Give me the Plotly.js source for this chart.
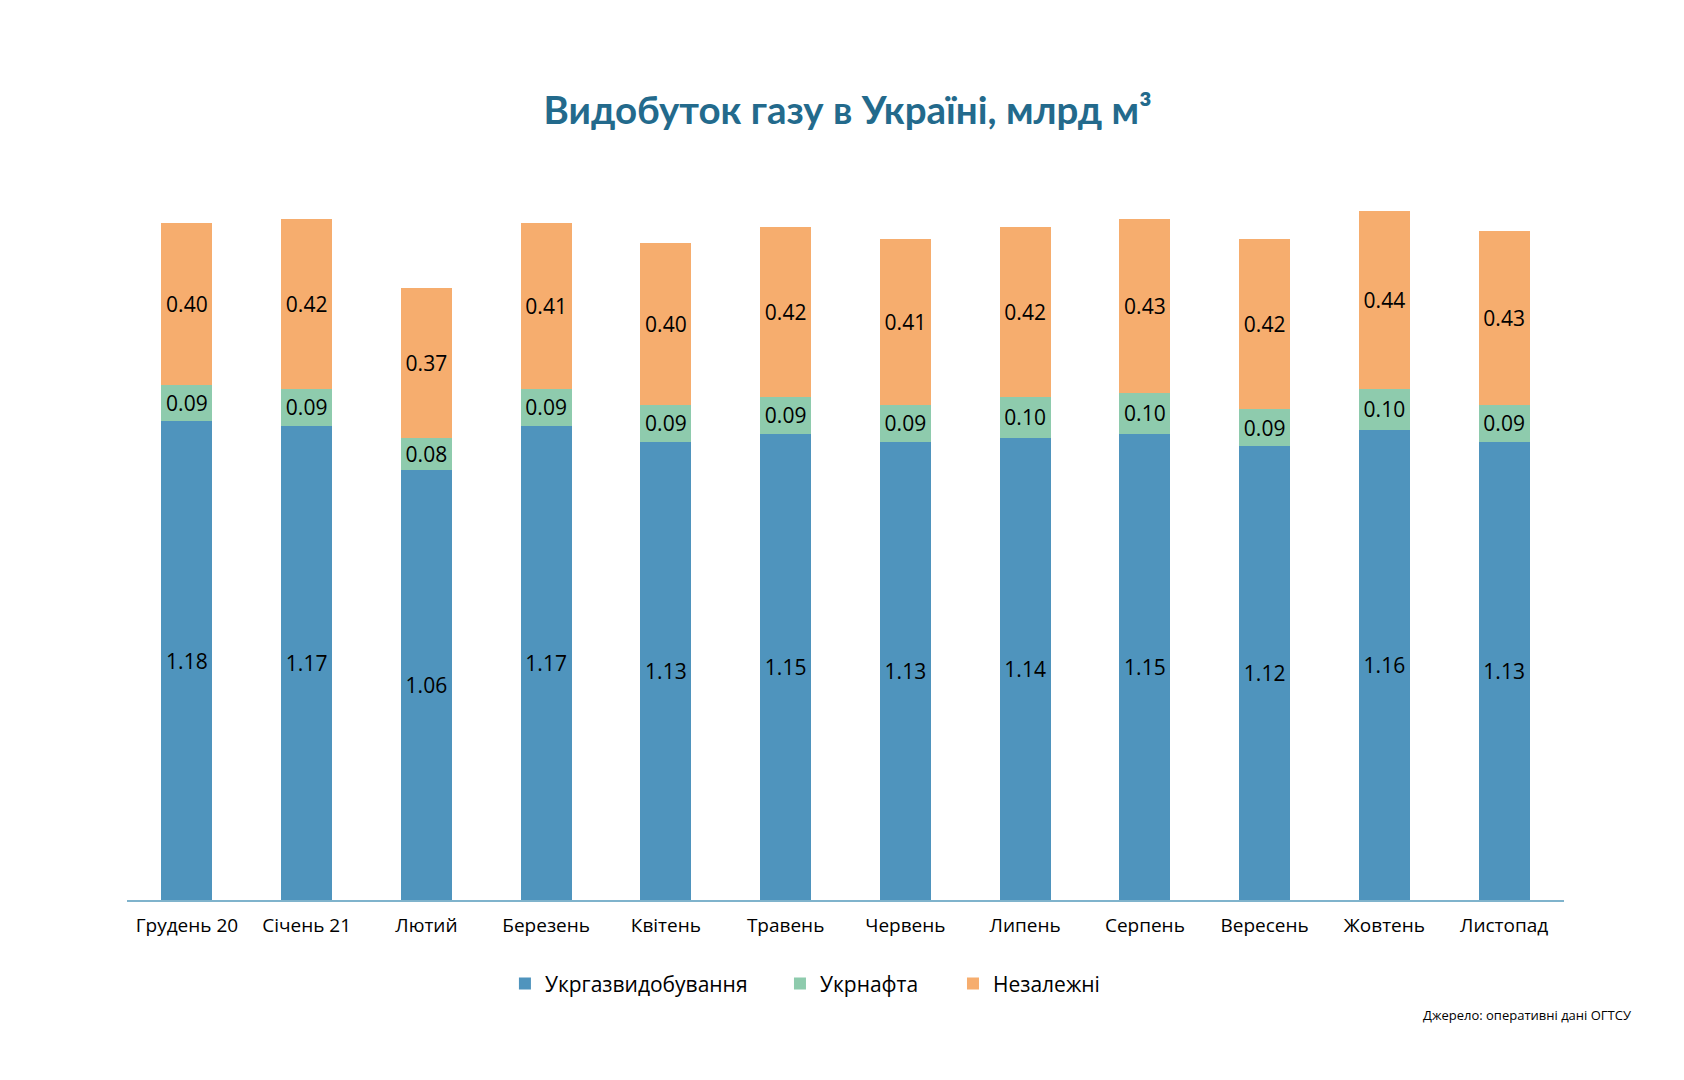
<!DOCTYPE html>
<html>
<head>
<meta charset="utf-8">
<script src="https://cdn.plot.ly/plotly-3.0.1.min.js"></script>
<style>
html,body{margin:0;padding:0;background:#fff;}
#chart{width:1684px;height:1080px;}
</style>
</head>
<body>
<div id="chart"></div>
<script>
const months = ["Грудень 20","Січень 21","Лютий","Березень","Квітень","Травень","Червень","Липень","Серпень","Вересень","Жовтень","Листопад"];
const ukrgaz = [1.18,1.17,1.06,1.17,1.13,1.15,1.13,1.14,1.15,1.12,1.16,1.13];
const ukrnafta = [0.09,0.09,0.08,0.09,0.09,0.09,0.09,0.10,0.10,0.09,0.10,0.09];
const independent = [0.40,0.42,0.37,0.41,0.40,0.42,0.41,0.42,0.43,0.42,0.44,0.43];
const seriesNames = ["Укргазвидобування","Укрнафта","Незалежні"];
const colors = ["#4f94bd","#8ecbad","#f6ad6e"];
const legendIds = ["legend","legend2","legend3"];

const labelFont = {family:"Open Sans, sans-serif", size:21, color:"#000"};
function mk(vals, i){
  return {
    type:"bar", x:months, y:vals, name:seriesNames[i], legend:legendIds[i],
    marker:{color:colors[i]},
    texttemplate:"%{y:.2f}", textposition:"inside", insidetextanchor:"middle",
    textangle:0, constraintext:"none",
    insidetextfont:labelFont, textfont:labelFont,
    hoverinfo:"skip"
  };
}
const data = [mk(ukrgaz,0), mk(ukrnafta,1), mk(independent,2)];

const legFont = {family:"Open Sans, sans-serif", size:21, color:"#000"};
function leg(x){
  return {orientation:"h", x:x, xanchor:"left", y:-0.115, yanchor:"middle", font:legFont, itemwidth:30, bgcolor:"rgba(0,0,0,0)"};
}

const layout = {
  width:1684, height:1080,
  paper_bgcolor:"#fff", plot_bgcolor:"#fff",
  margin:{l:127, r:120, t:170, b:180},
  barmode:"stack", bargap:0.576,
  title:{text:"<b>Видобуток газу в Україні, млрд м³</b>", x:0.5034, xanchor:"center", y:0.898, yanchor:"middle",
         font:{family:"Lato, sans-serif", size:38.5, color:"#236a8c"}},
  xaxis:{showline:true, linecolor:"#7fb3cc", linewidth:1.5, ticks:"", showgrid:false,
         tickfont:{family:"Open Sans, sans-serif", size:19, color:"#000"}, ticklabelstandoff:8},
  yaxis:{range:[0,1.8], visible:false, showgrid:false, zeroline:false},
  showlegend:true,
  legend:leg(0.263), legend2:leg(0.4544), legend3:leg(0.5748),
  annotations:[{text:"Джерело: оперативні дані ОГТСУ", xref:"paper", yref:"paper", x:1.0485, y:-0.1575,
                xanchor:"right", yanchor:"middle", showarrow:false,
                font:{family:"Open Sans, sans-serif", size:13, color:"#000"}}]
};
Plotly.newPlot("chart", data, layout, {displayModeBar:false, staticPlot:true});
</script>
</body>
</html>
